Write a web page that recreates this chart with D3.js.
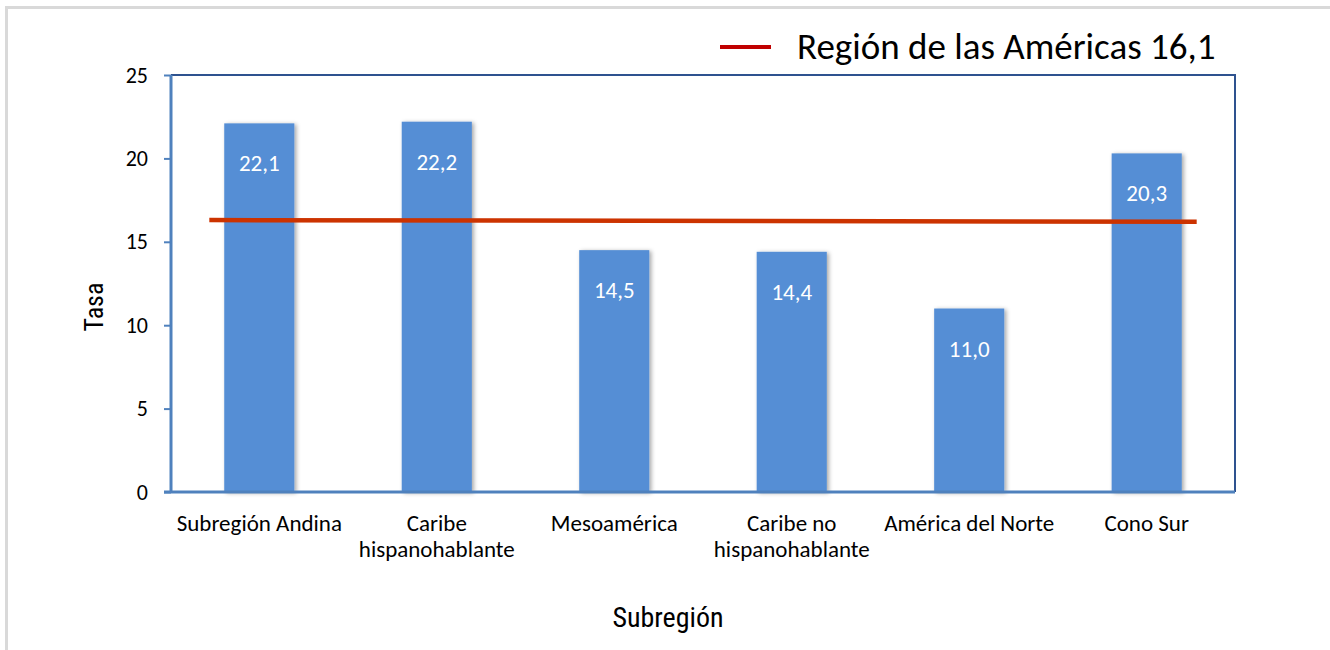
<!DOCTYPE html>
<html>
<head>
<meta charset="utf-8">
<script src="https://cdn.jsdelivr.net/npm/d3@7"></script>
<style>
  body { margin: 0; background: #fff; }
  svg { display: block; }
</style>
</head>
<body>
<svg id="chart"></svg>
<script>
// data
const categories = [
  ['Subregión Andina'],
  ['Caribe', 'hispanohablante'],
  ['Mesoamérica'],
  ['Caribe no', 'hispanohablante'],
  ['América del Norte'],
  ['Cono Sur']
];
const rates = [22.1, 22.2, 14.5, 14.4, 11.0, 20.3];
const regionLabel = 'Región de las Américas 16,1';
const regionLine = [16.3, 16.2]; // where the red line sits at left / right end
const yTicks = [0, 5, 10, 15, 20, 25];

const W = 1330, H = 650;
const margin = {top: 75, right: 95, bottom: 158, left: 171};
const fmt = v => v.toFixed(1).replace('.', ',');
const font = 'Calibri, Carlito, Lato, "Open Sans", sans-serif';

const svg = d3.select('#chart').attr('width', W).attr('height', H);

// outer frame
svg.append('path')
  .attr('d', `M6.5,${H} V7.5 H${W}`)
  .attr('fill', 'none')
  .attr('stroke', '#d9d9d9')
  .attr('stroke-width', 3);

const iw = W - margin.left - margin.right;
const ih = H - margin.top - margin.bottom;

const x = d3.scaleBand()
  .domain(d3.range(categories.length))
  .range([0, iw])
  .paddingInner(0.605)
  .paddingOuter(0.3);
const y = d3.scaleLinear().domain([0, 25]).range([ih, 0]);

const g = svg.append('g').attr('transform', `translate(${margin.left},${margin.top})`);

// plot frame top/right
g.append('path')
  .attr('d', `M0,0 H${iw} V${ih}`)
  .attr('fill', 'none')
  .attr('stroke', '#2e528f')
  .attr('stroke-width', 2);

// bar shadow
const defs = svg.append('defs');
const f = defs.append('filter').attr('id', 'shadow').attr('x', '-20%').attr('y', '-10%').attr('width', '140%').attr('height', '120%');
f.append('feDropShadow').attr('dx', 2).attr('dy', 1).attr('stdDeviation', 2).attr('flood-color', '#000').attr('flood-opacity', 0.35);

g.selectAll('rect.bar')
  .data(rates)
  .join('rect')
  .attr('class', 'bar')
  .attr('x', (d, i) => x(i))
  .attr('y', d => y(d))
  .attr('width', x.bandwidth())
  .attr('height', d => ih - y(d))
  .attr('fill', '#558ed5')
  .attr('filter', 'url(#shadow)');

g.selectAll('text.val')
  .data(rates)
  .join('text')
  .attr('class', 'val')
  .attr('x', (d, i) => x(i) + x.bandwidth() / 2)
  .attr('y', d => y(d) + 48)
  .attr('text-anchor', 'middle')
  .attr('fill', '#fff')
  .style('font-family', font)
  .style('font-size', '23px')
  .text(fmt);

// y axis
const yAxis = g.append('g')
  .call(d3.axisLeft(y).tickValues(yTicks).tickSize(7).tickPadding(16));
yAxis.select('.domain').attr('stroke', '#4f81bd').attr('stroke-width', 3).attr('d', `M0,0V${ih}`);
yAxis.selectAll('.tick line').attr('stroke', '#4f81bd').attr('stroke-width', 2);
yAxis.selectAll('.tick text')
  .attr('fill', '#000')
  .style('font-family', font)
  .style('font-size', '22px');

// x axis
const xAxis = g.append('g')
  .attr('transform', `translate(0,${ih})`)
  .call(d3.axisBottom(x).tickSize(0).tickFormat(''));
xAxis.select('.domain').attr('stroke', '#4f81bd').attr('stroke-width', 3).attr('d', `M-7,0H${iw}`);

xAxis.selectAll('.tick')
  .append('text')
  .attr('fill', '#000')
  .attr('text-anchor', 'middle')
  .style('font-family', font)
  .style('font-size', '23px')
  .selectAll('tspan')
  .data(i => categories[i])
  .join('tspan')
  .attr('x', 0)
  .attr('y', (d, j) => 39 + j * 26)
  .text(d => d);

// regional average line
const first = x(0) + x.bandwidth() / 2 - 50;
const last = x(categories.length - 1) + x.bandwidth() / 2 + 50;
g.append('line')
  .attr('x1', first).attr('x2', last)
  .attr('y1', y(regionLine[0])).attr('y2', y(regionLine[1]))
  .attr('stroke', '#cc3300')
  .attr('stroke-width', 4.5);

// legend
const lg = svg.append('g').attr('transform', 'translate(720,47)');
lg.append('line').attr('x1', 0).attr('x2', 51).attr('stroke', '#c00000').attr('stroke-width', 4);
lg.append('text')
  .attr('x', 77).attr('y', 12)
  .attr('fill', '#000')
  .style('font-family', font)
  .style('font-size', '37px')
  .text(regionLabel);

// axis titles
const condensed = '"Roboto Condensed", "Liberation Sans Narrow", "Arial Narrow", Roboto, sans-serif';
svg.append('text')
  .attr('transform', 'translate(103,307) rotate(-90)')
  .attr('text-anchor', 'middle')
  .attr('fill', '#000')
  .style('font-family', condensed)
  .style('font-size', '26px')
  .text('Tasa');
svg.append('text')
  .attr('x', 668).attr('y', 627)
  .attr('text-anchor', 'middle')
  .attr('fill', '#000')
  .style('font-family', condensed)
  .style('font-size', '28px')
  .text('Subregión');
</script>
</body>
</html>
